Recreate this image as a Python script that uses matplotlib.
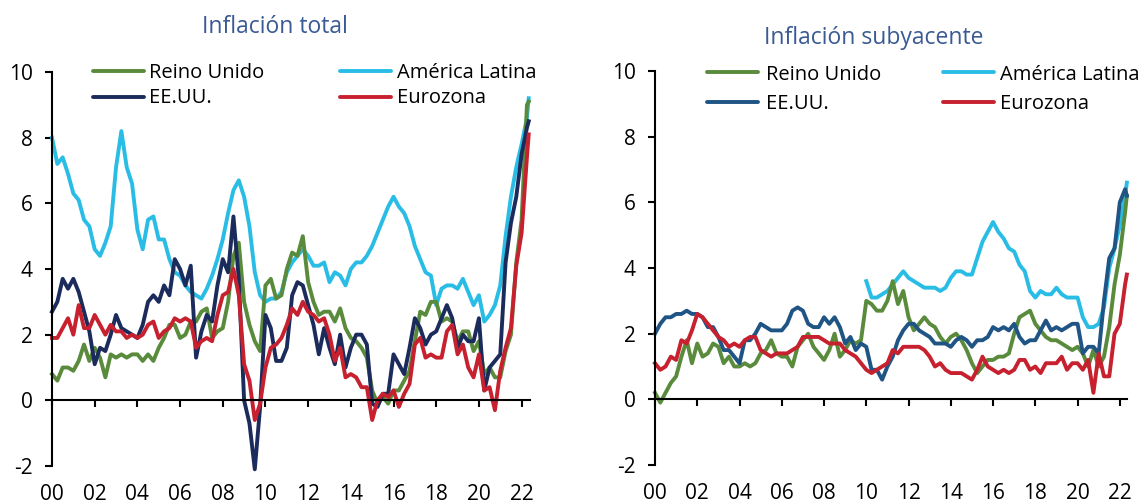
import numpy as np
import pandas as pd
import matplotlib
matplotlib.use("Agg")
from matplotlib import pyplot as plt
from matplotlib.lines import Line2D

plt.rcParams["font.family"] = ["Open Sans", "DejaVu Sans"]
plt.rcParams["axes.unicode_minus"] = False

# quarterly observations (Jan, Apr, Jul, Oct) from 2000, last point May 2022
dates = list(pd.date_range("2000-01-01", "2022-04-01", freq="QS")) + [pd.Timestamp("2022-05-01")]
years = np.array([d.year + (d.month - 1) / 12 for d in dates])
years_latam_core = years[years >= 2010]

# Inflación total
uk_total = [
    0.8, 0.6, 1.0, 1.0,  0.9, 1.2, 1.7, 1.2,  1.6, 1.3, 0.7, 1.4,  1.3, 1.4, 1.3, 1.4,
    1.4, 1.2, 1.4, 1.2,  1.6, 1.9, 2.3, 2.3,  1.9, 2.0, 2.4, 2.4,  2.7, 2.8, 1.9, 2.1,
    2.2, 3.0, 4.4, 4.8,  3.0, 2.3, 1.8, 1.5,  3.5, 3.7, 3.1, 3.2,  4.0, 4.5, 4.4, 5.0,
    3.6, 3.0, 2.6, 2.7,  2.7, 2.4, 2.8, 2.2,  1.9, 1.8, 1.6, 1.3,  0.3, -0.1, 0.1, -0.1,
    0.3, 0.3, 0.6, 0.9,  1.8, 2.7, 2.6, 3.0,  3.0, 2.4, 2.5, 2.4,  1.8, 2.1, 2.1, 1.5,
    1.8, 0.8, 1.0, 0.7,  0.7, 1.5, 2.0, 4.2,  5.5, 9.0, 9.1]
latam_total = [
    8.0, 7.2, 7.4, 6.9,  6.3, 6.1, 5.5, 5.3,  4.6, 4.4, 4.8, 5.3,  7.1, 8.2, 7.1, 6.6,
    5.2, 4.6, 5.5, 5.6,  4.9, 4.9, 4.3, 3.9,  3.8, 3.5, 3.3, 3.2,  3.1, 3.4, 3.8, 4.3,
    4.9, 5.7, 6.4, 6.7,  6.2, 5.3, 3.9, 3.2,  3.0, 3.1, 3.1, 3.3,  3.9, 4.2, 4.4, 4.6,
    4.4, 4.1, 4.1, 4.2,  3.6, 3.9, 3.8, 3.5,  4.0, 4.2, 4.2, 4.4,  4.7, 5.1, 5.5, 5.9,
    6.2, 5.9, 5.7, 5.3,  4.7, 4.3, 3.9, 3.8,  2.9, 3.4, 3.5, 3.5,  3.4, 3.7, 3.3, 2.9,
    3.2, 2.4, 2.6, 2.9,  3.5, 5.0, 6.2, 7.1,  7.8, 8.6, 9.2]
us_total = [
    2.7, 3.0, 3.7, 3.4,  3.7, 3.3, 2.7, 2.1,  1.1, 1.6, 1.5, 2.0,  2.6, 2.2, 2.1, 2.0,
    1.9, 2.3, 3.0, 3.2,  3.0, 3.5, 3.2, 4.3,  4.0, 3.5, 4.1, 1.3,  2.1, 2.6, 2.4, 3.5,
    4.3, 3.9, 5.6, 3.7,  0.0, -0.7, -2.1, -0.2,  2.6, 2.2, 1.2, 1.2,  1.6, 3.2, 3.6, 3.5,
    2.9, 2.3, 1.4, 2.2,  1.6, 1.1, 2.0, 1.0,  1.6, 2.0, 2.0, 1.7,  -0.1, -0.2, 0.2, 0.2,
    1.4, 1.1, 0.8, 1.6,  2.5, 2.2, 1.7, 2.0,  2.1, 2.5, 2.9, 2.5,  1.6, 2.0, 1.8, 1.8,
    2.5, 0.3, 1.0, 1.2,  1.4, 4.2, 5.4, 6.2,  7.5, 8.3, 8.5]
ez_total = [
    1.9, 1.9, 2.2, 2.5,  2.0, 2.9, 2.2, 2.2,  2.6, 2.3, 2.0, 2.3,  2.1, 2.1, 1.9, 2.0,
    1.9, 2.0, 2.3, 2.4,  1.9, 2.1, 2.2, 2.5,  2.4, 2.5, 2.4, 1.6,  1.8, 1.9, 1.8, 2.6,
    3.2, 3.3, 4.0, 3.2,  1.1, 0.6, -0.6, -0.1,  1.0, 1.6, 1.7, 1.9,  2.3, 2.8, 2.6, 3.0,
    2.7, 2.6, 2.4, 2.5,  2.0, 1.2, 1.6, 0.7,  0.8, 0.7, 0.4, 0.4,  -0.6, 0.0, 0.2, 0.1,
    0.3, -0.2, 0.2, 0.5,  1.7, 1.9, 1.3, 1.4,  1.3, 1.3, 2.1, 2.3,  1.4, 1.7, 1.0, 0.7,
    1.4, 0.3, 0.4, -0.3,  0.9, 1.6, 2.2, 4.1,  5.1, 7.4, 8.1]

# Inflación subyacente
uk_core = [
    0.2, -0.1, 0.2, 0.5,  0.7, 1.3, 1.8, 1.1,  1.7, 1.3, 1.4, 1.7,  1.6, 1.1, 1.3, 1.0,
    1.0, 1.1, 1.0, 1.1,  1.4, 1.5, 1.8, 1.4,  1.3, 1.3, 1.0, 1.6,  1.8, 2.0, 1.6, 1.4,
    1.2, 1.5, 2.0, 1.3,  1.5, 1.8, 1.7, 1.8,  3.0, 2.9, 2.7, 2.7,  3.0, 3.6, 2.9, 3.3,
    2.5, 2.1, 2.3, 2.5,  2.3, 2.2, 1.9, 1.7,  1.9, 2.0, 1.8, 1.5,  1.1, 0.8, 1.0, 1.2,
    1.2, 1.3, 1.3, 1.4,  2.0, 2.5, 2.6, 2.7,  2.3, 2.1, 1.9, 1.8,  1.8, 1.7, 1.6, 1.5,
    1.6, 1.4, 1.0, 1.5,  1.0, 1.3, 2.2, 3.5,  4.4, 5.7, 6.2]
latam_core = [
    3.6, 3.1, 3.1, 3.2,  3.3, 3.5, 3.7, 3.9,  3.7, 3.6, 3.5, 3.4,  3.4, 3.4, 3.3, 3.4,
    3.7, 3.9, 3.9, 3.8,  3.8, 4.3, 4.8, 5.1,  5.4, 5.1, 4.9, 4.6,  4.5, 4.1, 3.9, 3.3,
    3.1, 3.3, 3.2, 3.2,  3.4, 3.2, 3.1, 3.1,  3.1, 2.5, 2.2, 2.2,  2.3, 2.8, 4.0, 4.6,
    5.3, 6.2, 6.6]
us_core = [
    2.0, 2.3, 2.5, 2.5,  2.6, 2.6, 2.7, 2.6,  2.6, 2.5, 2.2, 2.2,  1.9, 1.5, 1.5, 1.3,
    1.1, 1.8, 1.8, 2.0,  2.3, 2.2, 2.1, 2.1,  2.1, 2.3, 2.7, 2.8,  2.7, 2.3, 2.2, 2.2,
    2.5, 2.3, 2.5, 2.2,  1.7, 1.9, 1.5, 1.7,  1.6, 0.9, 0.9, 0.6,  1.0, 1.3, 1.8, 2.1,
    2.3, 2.3, 2.1, 2.0,  1.9, 1.7, 1.7, 1.7,  1.6, 1.8, 1.9, 1.8,  1.6, 1.8, 1.8, 1.9,
    2.2, 2.1, 2.2, 2.1,  2.3, 1.9, 1.7, 1.8,  1.8, 2.1, 2.4, 2.1,  2.2, 2.1, 2.2, 2.3,
    2.3, 1.4, 1.6, 1.6,  1.4, 3.0, 4.3, 4.6,  6.0, 6.4, 6.2]
ez_core = [
    1.1, 0.9, 1.0, 1.3,  1.2, 1.8, 1.7, 2.1,  2.6, 2.5, 2.3, 2.1,  1.9, 1.8, 1.6, 1.7,
    1.6, 1.8, 1.9, 1.9,  1.5, 1.4, 1.3, 1.4,  1.4, 1.4, 1.5, 1.6,  1.9, 1.9, 1.9, 1.9,
    1.8, 1.7, 1.7, 1.7,  1.5, 1.4, 1.3, 1.1,  0.9, 0.8, 0.9, 1.0,  1.1, 1.5, 1.4, 1.6,
    1.6, 1.6, 1.6, 1.5,  1.3, 1.0, 1.1, 0.9,  0.8, 0.8, 0.8, 0.7,  0.6, 0.9, 1.3, 1.0,
    0.9, 0.8, 0.9, 0.8,  0.9, 1.2, 1.2, 0.9,  1.0, 0.8, 1.1, 1.1,  1.1, 1.3, 0.9, 1.1,
    1.1, 0.9, 1.2, 0.2,  1.4, 0.7, 0.7, 2.0,  2.3, 3.5, 3.8]

labels = ["Reino Unido", "EE.UU.", "América Latina", "Eurozona"]
green = "#5A8B3C"
lightblue = "#29BDE6"
red = "#C7202E"
navy_left = "#1B2B5B"
blue_right = "#1F5485"
title_color = "#3A5A94"
lw = 2.8

W, H = 1138, 504
fig = plt.figure(figsize=(W / 100, H / 100), dpi=100)


def px_axes(x0, x1, ytop, ybot):
    return fig.add_axes([x0 / W, 1 - ybot / H, (x1 - x0) / W, (ybot - ytop) / H])


def style_axes(ax, xmax):
    ax.set_xlim(2000, xmax)
    ax.set_ylim(-2, 10)
    for s in ["top", "right"]:
        ax.spines[s].set_visible(False)
    ax.spines["bottom"].set_position(("data", 0))
    for s in ["left", "bottom"]:
        ax.spines[s].set_linewidth(1.5)
    ax.set_xticks(range(2000, 2023, 2))
    ax.set_xticklabels([f"{y % 100:02d}" for y in range(2000, 2023, 2)])
    ax.set_yticks(range(-2, 11, 2))
    ax.tick_params(axis="x", direction="out", length=5, width=1.5, pad=55, labelsize=15)
    ax.tick_params(axis="y", direction="out", length=5, width=1.5, pad=9, labelsize=15)
    ax.patch.set_visible(False)


def legend_entry(x0, x1, xt, y_line, y_text, color, text):
    fig.add_artist(Line2D([x0 / W, x1 / W], [1 - y_line / H, 1 - y_line / H],
                          transform=fig.transFigure, color=color, lw=lw,
                          solid_capstyle="round"))
    fig.text(xt / W, 1 - y_text / H, text, fontsize=14.5, ha="left", va="baseline")


# Inflación total
ax1 = px_axes(52, 529.5, 72, 466)
style_axes(ax1, 2022.37)
ax1.plot(years, latam_total, color=lightblue, lw=lw, clip_on=False)
ax1.plot(years, uk_total, color=green, lw=lw, clip_on=False)
ax1.plot(years, us_total, color=navy_left, lw=lw, clip_on=False)
ax1.plot(years, ez_total, color=red, lw=lw, clip_on=False)
fig.text(275 / W, 1 - 33 / H, "Inflación total", fontsize=16.5, color=title_color,
         ha="center", va="baseline")
legend_entry(92.6, 143.6, 149, 71.3, 77.7, green, labels[0])
legend_entry(92.6, 143.6, 149, 96.7, 103.3, navy_left, labels[1])
legend_entry(340, 391, 397, 71.3, 77.7, lightblue, labels[2])
legend_entry(340, 391, 397, 96.7, 103.3, red, labels[3])

# Inflación subyacente
ax2 = px_axes(655, 1127, 71, 465)
style_axes(ax2, 2022.34)
ax2.plot(years_latam_core, latam_core, color=lightblue, lw=lw, clip_on=False)
ax2.plot(years, uk_core, color=green, lw=lw, clip_on=False)
ax2.plot(years, us_core, color=blue_right, lw=lw, clip_on=False)
ax2.plot(years, ez_core, color=red, lw=lw, clip_on=False)
fig.text(873.7 / W, 1 - 44 / H, "Inflación subyacente", fontsize=16.5, color=title_color,
         ha="center", va="baseline")
legend_entry(707, 758, 766, 72, 80, green, labels[0])
legend_entry(707, 758, 766, 102.3, 109.3, blue_right, labels[1])
legend_entry(943, 994, 1000, 72, 80, lightblue, labels[2])
legend_entry(943, 994, 1000, 102.3, 109.3, red, labels[3])

fig.savefig("out.png", dpi=100)
